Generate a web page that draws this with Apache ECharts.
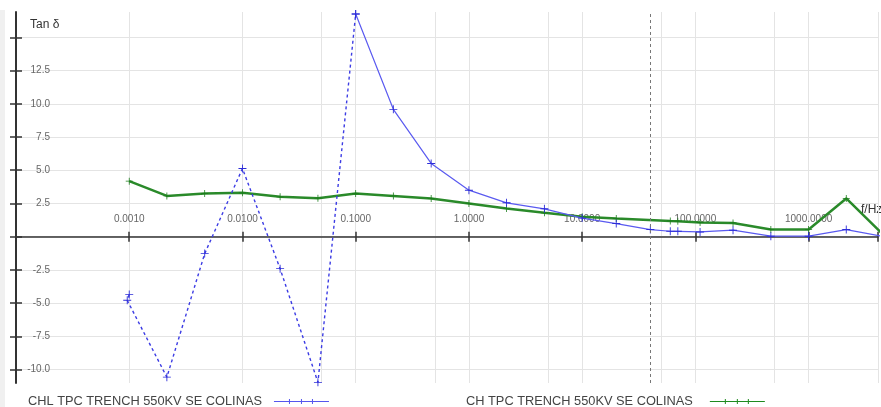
<!DOCTYPE html>
<html>
<head>
<meta charset="utf-8">
<script src="https://cdn.jsdelivr.net/npm/echarts@6/dist/echarts.min.js"></script>
<style>
html,body{margin:0;padding:0;background:#fff;}
#chart{width:881px;height:407px;}
</style>
</head>
<body>
<div id="chart"></div>
<script>
// ---- data ----
const nameCHL = 'CHL TPC TRENCH 550KV SE COLINAS';
const nameCH = 'CH TPC TRENCH 550KV SE COLINAS';

const freqCHL = [0.001, 0.00096, 0.00215, 0.00464, 0.01, 0.0215, 0.0464, 0.1, 0.215, 0.464, 1, 2.15, 4.64, 10, 20, 40, 60, 70, 110, 215, 464, 1000, 2150, 4640];
const tanCHL  = [-4.35, -4.78, -10.56, -1.27, 5.13, -2.4, -10.95, 16.75, 9.58, 5.51, 3.5, 2.55, 2.1, 1.4, 0.99, 0.54, 0.41, 0.41, 0.36, 0.49, 0.04, 0.04, 0.54, 0.0];
const dashedEndIndex = 7; // CHL is drawn dashed up to 0.1 Hz

const freqCH = [0.001, 0.00215, 0.00464, 0.01, 0.0215, 0.0464, 0.1, 0.215, 0.464, 1, 2.15, 4.64, 10, 20, 60, 70, 110, 215, 464, 1000, 2150, 4640];
const tanCH  = [4.18, 3.07, 3.25, 3.3, 3.0, 2.9, 3.25, 3.07, 2.88, 2.5, 2.12, 1.8, 1.5, 1.37, 1.19, 1.17, 1.07, 1.04, 0.54, 0.54, 2.88, 0.1];

const yTicks = [-10, -7.5, -5, -2.5, 0, 2.5, 5, 7.5, 10, 12.5, 15];
const yLabels = [-10, -7.5, -5, -2.5, 2.5, 5, 7.5, 10, 12.5];
const halfDecadeLines = [0.0005, 0.005, 0.05, 0.5, 5, 50, 500];
const markerFreq = 40;

// ---- build ----
const pairs = (xs, ys) => xs.map((x, i) => [x, ys[i]]);
const chlAll = pairs(freqCHL, tanCHL);
const chlDashed = chlAll.slice(0, dashedEndIndex + 1);
const chlSolid = chlAll.slice(dashedEndIndex);
const chData = pairs(freqCH, tanCH);

const FONT = '"Liberation Sans", Arial, sans-serif';
const plus = 'path://M4,0 L5,0 L5,9 L4,9 Z M0,4 L9,4 L9,5 L0,5 Z';
const legendIcon = 'path://M0,2.6 L55,2.6 L55,3.6 L0,3.6 Z M15,0.5 L16,0.5 L16,5.5 L15,5.5 Z M27,0.5 L28,0.5 L28,5.5 L27,5.5 Z M38,0.5 L39,0.5 L39,5.5 L38,5.5 Z';

const X_MIN = 0.0001, X_MAX = 4100, Y_MIN = -11, Y_MAX = 16.9;
const GRID_TOP = 12, GRID_BOTTOM = 24, H = 407;
// shift the x axis from the grid bottom up to the y = 0 line
const plotH = H - GRID_TOP - GRID_BOTTOM;
const zeroOffset = -plotH * (0 - Y_MIN) / (Y_MAX - Y_MIN);

const chart = echarts.init(document.getElementById('chart'), null, {renderer: 'canvas'});
const option = {
  animation: false,
  backgroundColor: '#ffffff',
  grid: {left: 16, right: 0, top: GRID_TOP, bottom: GRID_BOTTOM, containLabel: false},
  xAxis: [{
    type: 'log', logBase: 10, min: X_MIN, max: X_MAX, position: 'bottom', offset: zeroOffset,
    axisLine: {show: true, onZero: false, lineStyle: {color: '#333', width: 1.5}},
    axisTick: {show: true, length: 5, lineStyle: {color: '#333', width: 1.5}},
    axisLabel: {
      inside: true, margin: 12, fontSize: 10, color: '#666', fontFamily: FONT,
      showMinLabel: true, showMaxLabel: true,
      formatter: v => (v < 0.0005 || v > 1500) ? '' : Number(v).toFixed(4)
    },
    splitLine: {show: true, lineStyle: {color: '#e4e4e4', width: 1}},
    minorTick: {show: false}
  }, {
    type: 'log', logBase: 10, min: X_MIN, max: X_MAX, position: 'bottom', offset: zeroOffset,
    axisLine: {show: false, onZero: false},
    axisTick: {show: true, inside: true, length: 5, lineStyle: {color: '#333', width: 1.5}},
    axisLabel: {show: false},
    splitLine: {show: false}
  }],
  yAxis: [{
    type: 'value', min: Y_MIN, max: Y_MAX,
    axisLine: {show: true, onZero: false, lineStyle: {color: '#333', width: 2}},
    axisTick: {show: true, customValues: yTicks, length: 6, lineStyle: {color: '#333', width: 1.5}},
    axisLabel: {
      show: true, customValues: yLabels, inside: true, align: 'right', margin: 34,
      fontSize: 10, color: '#666', fontFamily: FONT,
      formatter: v => Number(v).toFixed(1)
    },
    splitLine: {show: true, lineStyle: {color: '#e4e4e4', width: 1}}
  }, {
    type: 'value', min: Y_MIN, max: Y_MAX, position: 'left',
    axisLine: {show: false, onZero: false},
    axisTick: {show: true, inside: true, customValues: yTicks, length: 6, lineStyle: {color: '#333', width: 1.5}},
    axisLabel: {show: false},
    splitLine: {show: false}
  }],
  legend: [{
    data: [{name: nameCHL, itemStyle: {color: '#5656ee'}}],
    left: 23, top: 390, align: 'right', itemWidth: 55, itemHeight: 6, icon: legendIcon,
    selectedMode: false,
    textStyle: {fontSize: 12.8, color: '#444', fontFamily: FONT, padding: [0, 7, 0, 0]}
  }, {
    data: [{name: nameCH, itemStyle: {color: '#1f8a1f'}}],
    left: 461, top: 390, align: 'right', itemWidth: 55, itemHeight: 6, icon: legendIcon,
    selectedMode: false,
    textStyle: {fontSize: 12.8, color: '#444', fontFamily: FONT, padding: [0, 12, 0, 0]}
  }],
  series: [{
    name: nameCHL, type: 'line', xAxisIndex: 0, yAxisIndex: 0,
    data: chlSolid, showAllSymbol: true,
    symbol: plus, symbolSize: 8,
    itemStyle: {color: '#2c2cd8'},
    lineStyle: {color: '#5a5af0', width: 1.2},
    z: 3,
    markLine: {
      silent: true, symbol: ['none', 'none'], label: {show: false},
      lineStyle: {color: '#777', type: [3, 3], width: 1},
      emphasis: {disabled: true},
      data: [{xAxis: markerFreq}]
    }
  }, {
    name: nameCHL, type: 'line', xAxisIndex: 0, yAxisIndex: 0,
    data: chlDashed, showAllSymbol: true,
    symbol: plus, symbolSize: 8,
    itemStyle: {color: '#2c2cd8'},
    lineStyle: {color: '#3c3ce4', width: 1.4, type: [3, 3]},
    z: 3,
    markLine: {
      silent: true, symbol: ['none', 'none'], label: {show: false}, z: 0,
      lineStyle: {color: '#e4e4e4', type: 'solid', width: 1},
      emphasis: {disabled: true},
      data: halfDecadeLines.map(v => ({xAxis: v}))
    }
  }, {
    name: nameCH, type: 'line', xAxisIndex: 0, yAxisIndex: 0,
    data: chData, showAllSymbol: true,
    symbol: plus, symbolSize: 7,
    itemStyle: {color: '#1b7d1b'},
    lineStyle: {color: '#2a8a2a', width: 2.5},
    z: 2
  }],
  graphic: [
    {type: 'rect', left: 0, top: 10, shape: {width: 5, height: 397}, style: {fill: '#f0f0f0'}, z: -1},
    {type: 'text', left: 30, top: 19, style: {text: 'Tan δ', fontSize: 12, fill: '#333', font: '12px ' + FONT}},
    {type: 'text', left: 861, top: 204, style: {text: 'f/Hz', fontSize: 12, fill: '#333', font: '12px ' + FONT}}
  ]
};
chart.setOption(option);
</script>
</body>
</html>
